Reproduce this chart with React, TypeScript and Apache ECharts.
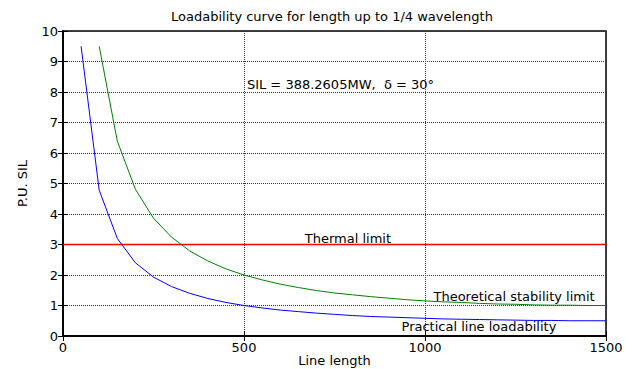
import React, { useEffect, useRef } from "react";
import * as echarts from "echarts";

const lengths = [50, 100, 150, 200, 250, 300, 350, 400, 450, 500, 550, 600, 650, 700, 750, 800, 850, 900, 950, 1000, 1050, 1100, 1150, 1200, 1250, 1300, 1350, 1400, 1450, 1500];
const practical = [9.5, 4.78, 3.2, 2.4, 1.93, 1.62, 1.4, 1.23, 1.1, 1.0, 0.92, 0.85, 0.8, 0.75, 0.71, 0.67, 0.64, 0.62, 0.6, 0.58, 0.56, 0.55, 0.54, 0.53, 0.52, 0.51, 0.51, 0.5, 0.5, 0.5];
const theoreticalLengths = [100, 150, 200, 250, 300, 350, 400, 450, 500, 550, 600, 650, 700, 750, 800, 850, 900, 950, 1000, 1050, 1100, 1150, 1200, 1250, 1300, 1350, 1400, 1450, 1500];
const theoretical = [9.5, 6.39, 4.81, 3.86, 3.24, 2.79, 2.46, 2.2, 2.0, 1.84, 1.7, 1.59, 1.49, 1.41, 1.35, 1.29, 1.24, 1.19, 1.15, 1.12, 1.1, 1.07, 1.05, 1.04, 1.02, 1.01, 1.01, 1.0, 1.0];
const thermalLengths = [0, 1500];
const thermal = [3, 3];

const titleText = "Loadability curve for length up to 1/4 wavelength";
const xName = "Line length";
const yName = "P.U. SIL";
const annotations = [
  { text: "SIL = 388.2605MW,  \u03b4 = 30\u00b0", x: 508, y: 8.26, align: "left" },
  { text: "Thermal limit", x: 787, y: 3.2, align: "center" },
  { text: "Theoretical stability limit", x: 1246, y: 1.31, align: "center" },
  { text: "Practical line loadability", x: 1149, y: 0.3, align: "center" },
];

const FONT = "DejaVu Sans";

export default function App() {
  const ref = useRef<HTMLDivElement>(null);
  useEffect(() => {
    if (!ref.current) return;
    const chart = echarts.init(ref.current, null, { renderer: "svg" });
    const gridLine = { show: true, lineStyle: { color: "#333", type: [1, 1] as any, width: 1 } };
    const labelStyle = { color: "#000", fontFamily: FONT, fontSize: 13 };
    chart.setOption({
      animation: false,
      backgroundColor: "#fff",
      title: {
        text: titleText,
        left: 327,
        top: 5,
        textAlign: "center",
        textStyle: { fontFamily: FONT, fontSize: 13, fontWeight: "normal", color: "#000" },
      },
      grid: {
        left: 63, right: 27, top: 31, bottom: 33, show: true,
        borderColor: "#000", borderWidth: 1.5, backgroundColor: "#fff",
        outerBoundsMode: "none", containLabel: false,
      },
      xAxis: [
        {
          type: "value", min: 0, max: 1500, interval: 500,
          name: xName, nameLocation: "middle", nameGap: 18, nameMoveOverlap: false,
          nameTextStyle: { ...labelStyle, lineHeight: 13 },
          axisLine: { lineStyle: { color: "#000", width: 1.5 } },
          axisTick: { inside: true, length: 5, lineStyle: { color: "#000" } },
          axisLabel: { ...labelStyle, margin: 5, formatter: (v: number) => String(v) },
          splitLine: gridLine,
        },
        {
          type: "value", min: 0, max: 1500, interval: 500, position: "top",
          axisLine: { lineStyle: { color: "#000", width: 1.5 } },
          axisTick: { inside: true, length: 5, lineStyle: { color: "#000" } },
          axisLabel: { show: false }, splitLine: { show: false },
        },
      ],
      yAxis: [
        {
          type: "value", min: 0, max: 10, interval: 1,
          name: yName, nameLocation: "middle", nameGap: 34, nameRotate: 90, nameMoveOverlap: false,
          nameTextStyle: { ...labelStyle },
          axisLine: { lineStyle: { color: "#000", width: 1.5 } },
          axisTick: { inside: true, length: 5, lineStyle: { color: "#000" } },
          axisLabel: { ...labelStyle, margin: 5 },
          splitLine: gridLine,
        },
        {
          type: "value", min: 0, max: 10, interval: 1, position: "right",
          axisLine: { lineStyle: { color: "#000", width: 1.5 } },
          axisTick: { inside: true, length: 5, lineStyle: { color: "#000" } },
          axisLabel: { show: false }, splitLine: { show: false },
        },
      ],
      series: [
        {
          type: "line", data: thermalLengths.map((x, i) => [x, thermal[i]]),
          showSymbol: false, lineStyle: { color: "#ff0000", width: 1.3 }, z: 3,
        },
        {
          type: "line", data: theoreticalLengths.map((x, i) => [x, theoretical[i]]),
          showSymbol: false, lineStyle: { color: "#008000", width: 1 }, z: 3,
        },
        {
          type: "line", data: lengths.map((x, i) => [x, practical[i]]),
          showSymbol: false, lineStyle: { color: "#0000ff", width: 1 }, z: 3,
        },
      ],
    });
    const graphics = annotations.map((a) => {
      const p = chart.convertToPixel({ gridIndex: 0 }, [a.x, a.y]) as number[];
      return {
        type: "text", x: p[0], y: p[1], z: 10,
        style: { text: a.text, fill: "#000", font: `13px '${FONT}'`, textAlign: a.align, textVerticalAlign: "middle" },
      };
    });
    chart.setOption({ graphic: graphics });
    return () => chart.dispose();
  }, []);
  return <div ref={ref} style={{ position: "absolute", left: 0, top: 0, width: 633, height: 369 }} />;
}
